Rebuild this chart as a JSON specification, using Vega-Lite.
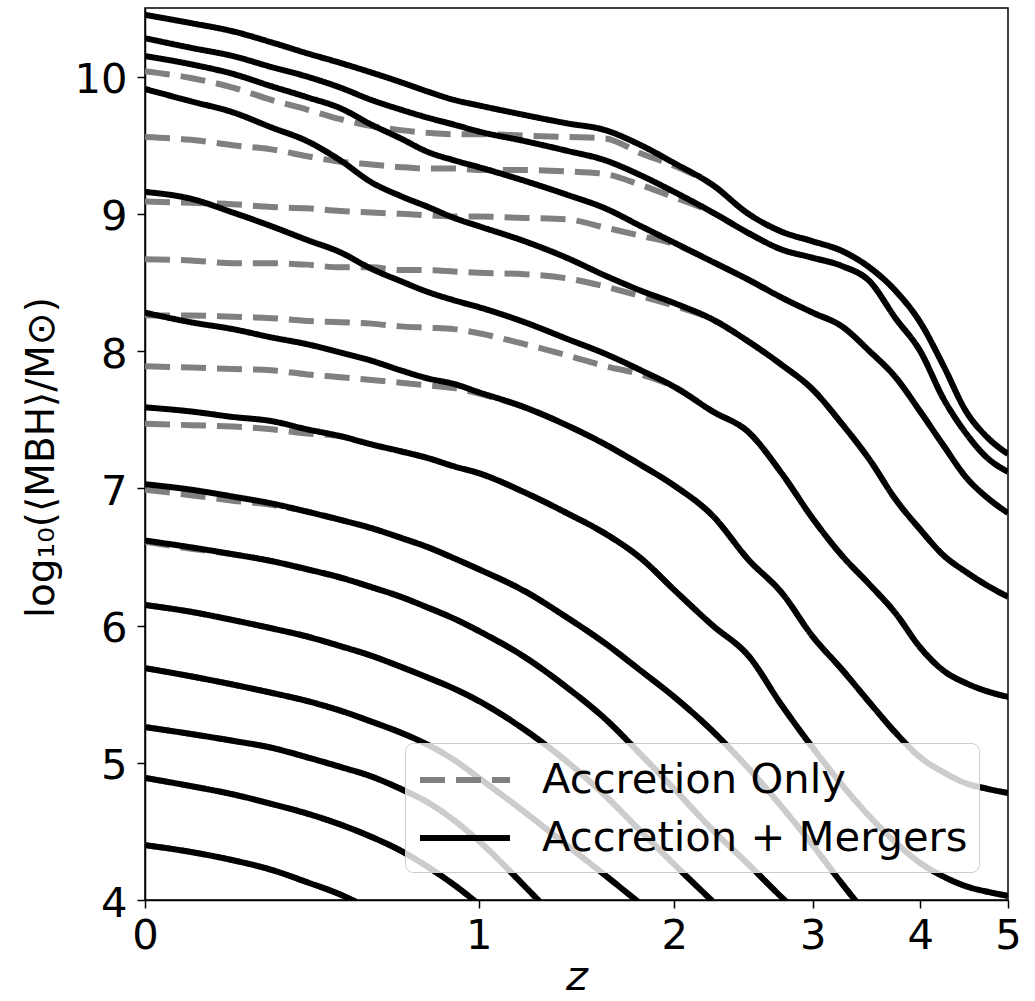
{
  "$schema": "https://vega.github.io/schema/vega-lite/v6.json",
  "width": 863,
  "height": 892,
  "autosize": {"type": "none"},
  "padding": {"left": 145, "top": 8, "right": 27, "bottom": 101},
  "background": "white",
  "config": {
    "font": "DejaVu Sans",
    "view": {"stroke": "#000000", "strokeWidth": 1.5},
    "axis": {
      "grid": false,
      "domainColor": "#000000", "domainWidth": 1.5,
      "tickColor": "#000000", "tickWidth": 1.5, "tickSize": 8,
      "labelFont": "DejaVu Sans", "labelFontSize": 41.67, "labelColor": "#000000", "labelPadding": 7,
      "titleFont": "DejaVu Sans", "titleFontSize": 41.67, "titleFontWeight": "normal", "titleColor": "#000000"
    },
    "legend": {
      "direction": "vertical",
      "symbolSize": 2025, "symbolStrokeWidth": 6, "symbolOffset": 23,
      "labelOffset": 51.5, "labelFont": "DejaVu Sans", "labelFontSize": 41.67, "labelColor": "#000000", "labelLimit": 1000,
      "rowPadding": 10, "padding": 11.5,
      "fillColor": "rgba(255,255,255,0.8)", "strokeColor": "#cccccc", "cornerRadius": 8
    }
  },
  "datasets": {
    "accretion_only": [
      {"track":1,"z":0,"logM":10.04},{"track":1,"z":0.1,"logM":9.99},{"track":1,"z":0.2,"logM":9.92},{"track":1,"z":0.3,"logM":9.83},{"track":1,"z":0.4,"logM":9.76},{"track":1,"z":0.5,"logM":9.69},{"track":1,"z":0.6,"logM":9.64},{"track":1,"z":0.7,"logM":9.61},{"track":1,"z":0.8,"logM":9.59},{"track":1,"z":0.9,"logM":9.58},{"track":1,"z":1,"logM":9.58},{"track":1,"z":1.2,"logM":9.57},{"track":1,"z":1.4,"logM":9.56},{"track":1,"z":1.6,"logM":9.55},{"track":1,"z":1.8,"logM":9.44},{"track":1,"z":2,"logM":9.35},{"track":1,"z":2.25,"logM":9.21},{"track":1,"z":2.5,"logM":9.0},{"track":1,"z":2.75,"logM":8.87},{"track":1,"z":3,"logM":8.8},{"track":1,"z":3.25,"logM":8.73},{"track":1,"z":3.5,"logM":8.61},{"track":1,"z":3.75,"logM":8.44},{"track":1,"z":4,"logM":8.21},{"track":1,"z":4.25,"logM":7.89},{"track":1,"z":4.5,"logM":7.56},{"track":1,"z":4.75,"logM":7.37},{"track":1,"z":5,"logM":7.25},
      {"track":2,"z":0,"logM":9.56},{"track":2,"z":0.1,"logM":9.54},{"track":2,"z":0.2,"logM":9.5},{"track":2,"z":0.3,"logM":9.47},{"track":2,"z":0.4,"logM":9.42},{"track":2,"z":0.5,"logM":9.38},{"track":2,"z":0.6,"logM":9.36},{"track":2,"z":0.7,"logM":9.34},{"track":2,"z":0.8,"logM":9.33},{"track":2,"z":0.9,"logM":9.33},{"track":2,"z":1,"logM":9.32},{"track":2,"z":1.2,"logM":9.32},{"track":2,"z":1.4,"logM":9.31},{"track":2,"z":1.6,"logM":9.29},{"track":2,"z":1.8,"logM":9.21},{"track":2,"z":2,"logM":9.12},{"track":2,"z":2.25,"logM":9.01},{"track":2,"z":2.5,"logM":8.86},{"track":2,"z":2.75,"logM":8.74},{"track":2,"z":3,"logM":8.68},{"track":2,"z":3.25,"logM":8.62},{"track":2,"z":3.5,"logM":8.51},{"track":2,"z":3.75,"logM":8.24},{"track":2,"z":4,"logM":8.0},{"track":2,"z":4.25,"logM":7.65},{"track":2,"z":4.5,"logM":7.4},{"track":2,"z":4.75,"logM":7.22},{"track":2,"z":5,"logM":7.12},
      {"track":3,"z":0,"logM":9.09},{"track":3,"z":0.1,"logM":9.08},{"track":3,"z":0.2,"logM":9.07},{"track":3,"z":0.3,"logM":9.05},{"track":3,"z":0.4,"logM":9.04},{"track":3,"z":0.5,"logM":9.02},{"track":3,"z":0.6,"logM":9.01},{"track":3,"z":0.7,"logM":9.0},{"track":3,"z":0.8,"logM":8.99},{"track":3,"z":0.9,"logM":8.98},{"track":3,"z":1,"logM":8.98},{"track":3,"z":1.2,"logM":8.97},{"track":3,"z":1.4,"logM":8.96},{"track":3,"z":1.6,"logM":8.9},{"track":3,"z":1.8,"logM":8.84},{"track":3,"z":2,"logM":8.78},{"track":3,"z":2.25,"logM":8.65},{"track":3,"z":2.5,"logM":8.52},{"track":3,"z":2.75,"logM":8.39},{"track":3,"z":3,"logM":8.28},{"track":3,"z":3.25,"logM":8.18},{"track":3,"z":3.5,"logM":8.0},{"track":3,"z":3.75,"logM":7.81},{"track":3,"z":4,"logM":7.56},{"track":3,"z":4.25,"logM":7.31},{"track":3,"z":4.5,"logM":7.08},{"track":3,"z":4.75,"logM":6.93},{"track":3,"z":5,"logM":6.82},
      {"track":4,"z":0,"logM":8.67},{"track":4,"z":0.1,"logM":8.66},{"track":4,"z":0.2,"logM":8.64},{"track":4,"z":0.3,"logM":8.64},{"track":4,"z":0.4,"logM":8.63},{"track":4,"z":0.5,"logM":8.61},{"track":4,"z":0.6,"logM":8.61},{"track":4,"z":0.7,"logM":8.59},{"track":4,"z":0.8,"logM":8.59},{"track":4,"z":0.9,"logM":8.58},{"track":4,"z":1,"logM":8.57},{"track":4,"z":1.2,"logM":8.56},{"track":4,"z":1.4,"logM":8.53},{"track":4,"z":1.6,"logM":8.47},{"track":4,"z":1.8,"logM":8.4},{"track":4,"z":2,"logM":8.33},{"track":4,"z":2.25,"logM":8.23},{"track":4,"z":2.5,"logM":8.07},{"track":4,"z":2.75,"logM":7.9},{"track":4,"z":3,"logM":7.72},{"track":4,"z":3.25,"logM":7.47},{"track":4,"z":3.5,"logM":7.21},{"track":4,"z":3.75,"logM":6.92},{"track":4,"z":4,"logM":6.7},{"track":4,"z":4.25,"logM":6.51},{"track":4,"z":4.5,"logM":6.39},{"track":4,"z":4.75,"logM":6.29},{"track":4,"z":5,"logM":6.21},
      {"track":5,"z":0,"logM":8.26},{"track":5,"z":0.1,"logM":8.26},{"track":5,"z":0.2,"logM":8.25},{"track":5,"z":0.3,"logM":8.24},{"track":5,"z":0.4,"logM":8.22},{"track":5,"z":0.5,"logM":8.21},{"track":5,"z":0.6,"logM":8.2},{"track":5,"z":0.7,"logM":8.18},{"track":5,"z":0.8,"logM":8.17},{"track":5,"z":0.9,"logM":8.16},{"track":5,"z":1,"logM":8.13},{"track":5,"z":1.2,"logM":8.05},{"track":5,"z":1.4,"logM":7.97},{"track":5,"z":1.6,"logM":7.89},{"track":5,"z":1.8,"logM":7.83},{"track":5,"z":2,"logM":7.74},{"track":5,"z":2.25,"logM":7.56},{"track":5,"z":2.5,"logM":7.41},{"track":5,"z":2.75,"logM":7.11},{"track":5,"z":3,"logM":6.78},{"track":5,"z":3.25,"logM":6.51},{"track":5,"z":3.5,"logM":6.3},{"track":5,"z":3.75,"logM":6.09},{"track":5,"z":4,"logM":5.84},{"track":5,"z":4.25,"logM":5.67},{"track":5,"z":4.5,"logM":5.58},{"track":5,"z":4.75,"logM":5.52},{"track":5,"z":5,"logM":5.48},
      {"track":6,"z":0,"logM":7.89},{"track":6,"z":0.1,"logM":7.88},{"track":6,"z":0.2,"logM":7.87},{"track":6,"z":0.3,"logM":7.86},{"track":6,"z":0.4,"logM":7.83},{"track":6,"z":0.5,"logM":7.81},{"track":6,"z":0.6,"logM":7.79},{"track":6,"z":0.7,"logM":7.77},{"track":6,"z":0.8,"logM":7.75},{"track":6,"z":0.9,"logM":7.73},{"track":6,"z":1,"logM":7.69},{"track":6,"z":1.2,"logM":7.59},{"track":6,"z":1.4,"logM":7.46},{"track":6,"z":1.6,"logM":7.32},{"track":6,"z":1.8,"logM":7.17},{"track":6,"z":2,"logM":7.02},{"track":6,"z":2.25,"logM":6.8},{"track":6,"z":2.5,"logM":6.48},{"track":6,"z":2.75,"logM":6.24},{"track":6,"z":3,"logM":5.92},{"track":6,"z":3.25,"logM":5.68},{"track":6,"z":3.5,"logM":5.44},{"track":6,"z":3.75,"logM":5.22},{"track":6,"z":4,"logM":5.04},{"track":6,"z":4.25,"logM":4.93},{"track":6,"z":4.5,"logM":4.85},{"track":6,"z":4.75,"logM":4.81},{"track":6,"z":5,"logM":4.78},
      {"track":7,"z":0,"logM":7.47},{"track":7,"z":0.1,"logM":7.46},{"track":7,"z":0.2,"logM":7.45},{"track":7,"z":0.3,"logM":7.43},{"track":7,"z":0.4,"logM":7.4},{"track":7,"z":0.5,"logM":7.38},{"track":7,"z":0.6,"logM":7.32},{"track":7,"z":0.7,"logM":7.27},{"track":7,"z":0.8,"logM":7.22},{"track":7,"z":0.9,"logM":7.16},{"track":7,"z":1,"logM":7.11},{"track":7,"z":1.2,"logM":6.97},{"track":7,"z":1.4,"logM":6.82},{"track":7,"z":1.6,"logM":6.67},{"track":7,"z":1.8,"logM":6.49},{"track":7,"z":2,"logM":6.26},{"track":7,"z":2.25,"logM":6.0},{"track":7,"z":2.5,"logM":5.78},{"track":7,"z":2.75,"logM":5.42},{"track":7,"z":3,"logM":5.11},{"track":7,"z":3.25,"logM":4.84},{"track":7,"z":3.5,"logM":4.61},{"track":7,"z":3.75,"logM":4.42},{"track":7,"z":4,"logM":4.27},{"track":7,"z":4.25,"logM":4.17},{"track":7,"z":4.5,"logM":4.1},{"track":7,"z":4.75,"logM":4.06},{"track":7,"z":5,"logM":4.03},
      {"track":8,"z":0,"logM":6.99},{"track":8,"z":0.1,"logM":6.95},{"track":8,"z":0.2,"logM":6.91},{"track":8,"z":0.3,"logM":6.88},{"track":8,"z":0.4,"logM":6.83},{"track":8,"z":0.5,"logM":6.77},{"track":8,"z":0.6,"logM":6.71},{"track":8,"z":0.7,"logM":6.64},{"track":8,"z":0.8,"logM":6.57},{"track":8,"z":0.9,"logM":6.49},{"track":8,"z":1,"logM":6.41},{"track":8,"z":1.2,"logM":6.25},{"track":8,"z":1.4,"logM":6.06},{"track":8,"z":1.6,"logM":5.87},{"track":8,"z":1.8,"logM":5.67},{"track":8,"z":2,"logM":5.48},{"track":8,"z":2.25,"logM":5.23},{"track":8,"z":2.5,"logM":4.96},{"track":8,"z":2.75,"logM":4.68},{"track":8,"z":3,"logM":4.4},{"track":8,"z":3.25,"logM":4.12},{"track":8,"z":3.5,"logM":3.87},
      {"track":9,"z":0,"logM":6.61},{"track":9,"z":0.1,"logM":6.56},{"track":9,"z":0.2,"logM":6.52},{"track":9,"z":0.3,"logM":6.47},{"track":9,"z":0.4,"logM":6.41},{"track":9,"z":0.5,"logM":6.35},{"track":9,"z":0.6,"logM":6.28},{"track":9,"z":0.7,"logM":6.21},{"track":9,"z":0.8,"logM":6.13},{"track":9,"z":0.9,"logM":6.05},{"track":9,"z":1,"logM":5.96},{"track":9,"z":1.2,"logM":5.77},{"track":9,"z":1.4,"logM":5.55},{"track":9,"z":1.6,"logM":5.32},{"track":9,"z":1.8,"logM":5.06},{"track":9,"z":2,"logM":4.81},{"track":9,"z":2.25,"logM":4.51},{"track":9,"z":2.5,"logM":4.26},{"track":9,"z":2.75,"logM":4.02},{"track":9,"z":3,"logM":3.81},
      {"track":10,"z":0,"logM":6.15},{"track":10,"z":0.1,"logM":6.1},{"track":10,"z":0.2,"logM":6.04},{"track":10,"z":0.3,"logM":5.98},{"track":10,"z":0.4,"logM":5.92},{"track":10,"z":0.5,"logM":5.85},{"track":10,"z":0.6,"logM":5.78},{"track":10,"z":0.7,"logM":5.7},{"track":10,"z":0.8,"logM":5.62},{"track":10,"z":0.9,"logM":5.54},{"track":10,"z":1,"logM":5.45},{"track":10,"z":1.2,"logM":5.24},{"track":10,"z":1.4,"logM":5.01},{"track":10,"z":1.6,"logM":4.76},{"track":10,"z":1.8,"logM":4.5},{"track":10,"z":2,"logM":4.26},{"track":10,"z":2.25,"logM":3.99},
      {"track":11,"z":0,"logM":5.69},{"track":11,"z":0.1,"logM":5.63},{"track":11,"z":0.2,"logM":5.57},{"track":11,"z":0.3,"logM":5.51},{"track":11,"z":0.4,"logM":5.45},{"track":11,"z":0.5,"logM":5.38},{"track":11,"z":0.6,"logM":5.3},{"track":11,"z":0.7,"logM":5.22},{"track":11,"z":0.8,"logM":5.13},{"track":11,"z":0.9,"logM":5.02},{"track":11,"z":1,"logM":4.89},{"track":11,"z":1.2,"logM":4.64},{"track":11,"z":1.4,"logM":4.4},{"track":11,"z":1.6,"logM":4.18},{"track":11,"z":1.8,"logM":3.97},
      {"track":12,"z":0,"logM":5.26},{"track":12,"z":0.1,"logM":5.21},{"track":12,"z":0.2,"logM":5.16},{"track":12,"z":0.3,"logM":5.11},{"track":12,"z":0.4,"logM":5.04},{"track":12,"z":0.5,"logM":4.97},{"track":12,"z":0.6,"logM":4.9},{"track":12,"z":0.7,"logM":4.81},{"track":12,"z":0.8,"logM":4.71},{"track":12,"z":0.9,"logM":4.58},{"track":12,"z":1,"logM":4.43},{"track":12,"z":1.2,"logM":4.1},{"track":12,"z":1.4,"logM":3.78},
      {"track":13,"z":0,"logM":4.89},{"track":13,"z":0.1,"logM":4.83},{"track":13,"z":0.2,"logM":4.77},{"track":13,"z":0.3,"logM":4.7},{"track":13,"z":0.4,"logM":4.63},{"track":13,"z":0.5,"logM":4.55},{"track":13,"z":0.6,"logM":4.46},{"track":13,"z":0.7,"logM":4.36},{"track":13,"z":0.8,"logM":4.24},{"track":13,"z":0.9,"logM":4.11},{"track":13,"z":1,"logM":3.97},
      {"track":14,"z":0,"logM":4.4},{"track":14,"z":0.1,"logM":4.35},{"track":14,"z":0.2,"logM":4.29},{"track":14,"z":0.3,"logM":4.22},{"track":14,"z":0.4,"logM":4.13},{"track":14,"z":0.5,"logM":4.04},{"track":14,"z":0.6,"logM":3.93}
    ],
    "accretion_mergers": [
      {"track":1,"z":0,"logM":10.45},{"track":1,"z":0.1,"logM":10.39},{"track":1,"z":0.2,"logM":10.33},{"track":1,"z":0.3,"logM":10.25},{"track":1,"z":0.4,"logM":10.17},{"track":1,"z":0.5,"logM":10.1},{"track":1,"z":0.6,"logM":10.03},{"track":1,"z":0.7,"logM":9.96},{"track":1,"z":0.8,"logM":9.89},{"track":1,"z":0.9,"logM":9.83},{"track":1,"z":1,"logM":9.79},{"track":1,"z":1.2,"logM":9.72},{"track":1,"z":1.4,"logM":9.66},{"track":1,"z":1.6,"logM":9.61},{"track":1,"z":1.8,"logM":9.5},{"track":1,"z":2,"logM":9.37},{"track":1,"z":2.25,"logM":9.21},{"track":1,"z":2.5,"logM":9.0},{"track":1,"z":2.75,"logM":8.87},{"track":1,"z":3,"logM":8.8},{"track":1,"z":3.25,"logM":8.73},{"track":1,"z":3.5,"logM":8.61},{"track":1,"z":3.75,"logM":8.44},{"track":1,"z":4,"logM":8.21},{"track":1,"z":4.25,"logM":7.89},{"track":1,"z":4.5,"logM":7.56},{"track":1,"z":4.75,"logM":7.37},{"track":1,"z":5,"logM":7.25},
      {"track":2,"z":0,"logM":10.28},{"track":2,"z":0.1,"logM":10.21},{"track":2,"z":0.2,"logM":10.15},{"track":2,"z":0.3,"logM":10.07},{"track":2,"z":0.4,"logM":10.0},{"track":2,"z":0.5,"logM":9.92},{"track":2,"z":0.6,"logM":9.83},{"track":2,"z":0.7,"logM":9.76},{"track":2,"z":0.8,"logM":9.7},{"track":2,"z":0.9,"logM":9.65},{"track":2,"z":1,"logM":9.6},{"track":2,"z":1.2,"logM":9.53},{"track":2,"z":1.4,"logM":9.46},{"track":2,"z":1.6,"logM":9.39},{"track":2,"z":1.8,"logM":9.28},{"track":2,"z":2,"logM":9.16},{"track":2,"z":2.25,"logM":9.01},{"track":2,"z":2.5,"logM":8.86},{"track":2,"z":2.75,"logM":8.74},{"track":2,"z":3,"logM":8.68},{"track":2,"z":3.25,"logM":8.62},{"track":2,"z":3.5,"logM":8.51},{"track":2,"z":3.75,"logM":8.24},{"track":2,"z":4,"logM":8.0},{"track":2,"z":4.25,"logM":7.65},{"track":2,"z":4.5,"logM":7.4},{"track":2,"z":4.75,"logM":7.22},{"track":2,"z":5,"logM":7.12},
      {"track":3,"z":0,"logM":10.15},{"track":3,"z":0.1,"logM":10.09},{"track":3,"z":0.2,"logM":10.02},{"track":3,"z":0.3,"logM":9.93},{"track":3,"z":0.4,"logM":9.85},{"track":3,"z":0.5,"logM":9.77},{"track":3,"z":0.6,"logM":9.65},{"track":3,"z":0.7,"logM":9.55},{"track":3,"z":0.8,"logM":9.45},{"track":3,"z":0.9,"logM":9.39},{"track":3,"z":1,"logM":9.34},{"track":3,"z":1.2,"logM":9.24},{"track":3,"z":1.4,"logM":9.14},{"track":3,"z":1.6,"logM":9.04},{"track":3,"z":1.8,"logM":8.91},{"track":3,"z":2,"logM":8.79},{"track":3,"z":2.25,"logM":8.65},{"track":3,"z":2.5,"logM":8.52},{"track":3,"z":2.75,"logM":8.39},{"track":3,"z":3,"logM":8.28},{"track":3,"z":3.25,"logM":8.18},{"track":3,"z":3.5,"logM":8.0},{"track":3,"z":3.75,"logM":7.81},{"track":3,"z":4,"logM":7.56},{"track":3,"z":4.25,"logM":7.31},{"track":3,"z":4.5,"logM":7.08},{"track":3,"z":4.75,"logM":6.93},{"track":3,"z":5,"logM":6.82},
      {"track":4,"z":0,"logM":9.91},{"track":4,"z":0.1,"logM":9.82},{"track":4,"z":0.2,"logM":9.74},{"track":4,"z":0.3,"logM":9.63},{"track":4,"z":0.4,"logM":9.53},{"track":4,"z":0.5,"logM":9.39},{"track":4,"z":0.6,"logM":9.23},{"track":4,"z":0.7,"logM":9.13},{"track":4,"z":0.8,"logM":9.05},{"track":4,"z":0.9,"logM":8.97},{"track":4,"z":1,"logM":8.91},{"track":4,"z":1.2,"logM":8.8},{"track":4,"z":1.4,"logM":8.68},{"track":4,"z":1.6,"logM":8.55},{"track":4,"z":1.8,"logM":8.44},{"track":4,"z":2,"logM":8.35},{"track":4,"z":2.25,"logM":8.23},{"track":4,"z":2.5,"logM":8.07},{"track":4,"z":2.75,"logM":7.9},{"track":4,"z":3,"logM":7.72},{"track":4,"z":3.25,"logM":7.47},{"track":4,"z":3.5,"logM":7.21},{"track":4,"z":3.75,"logM":6.92},{"track":4,"z":4,"logM":6.7},{"track":4,"z":4.25,"logM":6.51},{"track":4,"z":4.5,"logM":6.39},{"track":4,"z":4.75,"logM":6.29},{"track":4,"z":5,"logM":6.21},
      {"track":5,"z":0,"logM":9.16},{"track":5,"z":0.1,"logM":9.11},{"track":5,"z":0.2,"logM":9.01},{"track":5,"z":0.3,"logM":8.91},{"track":5,"z":0.4,"logM":8.81},{"track":5,"z":0.5,"logM":8.72},{"track":5,"z":0.6,"logM":8.6},{"track":5,"z":0.7,"logM":8.51},{"track":5,"z":0.8,"logM":8.43},{"track":5,"z":0.9,"logM":8.37},{"track":5,"z":1,"logM":8.32},{"track":5,"z":1.2,"logM":8.21},{"track":5,"z":1.4,"logM":8.09},{"track":5,"z":1.6,"logM":7.98},{"track":5,"z":1.8,"logM":7.86},{"track":5,"z":2,"logM":7.74},{"track":5,"z":2.25,"logM":7.56},{"track":5,"z":2.5,"logM":7.41},{"track":5,"z":2.75,"logM":7.11},{"track":5,"z":3,"logM":6.78},{"track":5,"z":3.25,"logM":6.51},{"track":5,"z":3.5,"logM":6.3},{"track":5,"z":3.75,"logM":6.09},{"track":5,"z":4,"logM":5.84},{"track":5,"z":4.25,"logM":5.67},{"track":5,"z":4.5,"logM":5.58},{"track":5,"z":4.75,"logM":5.52},{"track":5,"z":5,"logM":5.48},
      {"track":6,"z":0,"logM":8.28},{"track":6,"z":0.1,"logM":8.21},{"track":6,"z":0.2,"logM":8.16},{"track":6,"z":0.3,"logM":8.1},{"track":6,"z":0.4,"logM":8.05},{"track":6,"z":0.5,"logM":7.99},{"track":6,"z":0.6,"logM":7.93},{"track":6,"z":0.7,"logM":7.86},{"track":6,"z":0.8,"logM":7.8},{"track":6,"z":0.9,"logM":7.76},{"track":6,"z":1,"logM":7.7},{"track":6,"z":1.2,"logM":7.59},{"track":6,"z":1.4,"logM":7.46},{"track":6,"z":1.6,"logM":7.32},{"track":6,"z":1.8,"logM":7.17},{"track":6,"z":2,"logM":7.02},{"track":6,"z":2.25,"logM":6.8},{"track":6,"z":2.5,"logM":6.48},{"track":6,"z":2.75,"logM":6.24},{"track":6,"z":3,"logM":5.92},{"track":6,"z":3.25,"logM":5.68},{"track":6,"z":3.5,"logM":5.44},{"track":6,"z":3.75,"logM":5.22},{"track":6,"z":4,"logM":5.04},{"track":6,"z":4.25,"logM":4.93},{"track":6,"z":4.5,"logM":4.85},{"track":6,"z":4.75,"logM":4.81},{"track":6,"z":5,"logM":4.78},
      {"track":7,"z":0,"logM":7.59},{"track":7,"z":0.1,"logM":7.56},{"track":7,"z":0.2,"logM":7.52},{"track":7,"z":0.3,"logM":7.49},{"track":7,"z":0.4,"logM":7.43},{"track":7,"z":0.5,"logM":7.38},{"track":7,"z":0.6,"logM":7.32},{"track":7,"z":0.7,"logM":7.27},{"track":7,"z":0.8,"logM":7.22},{"track":7,"z":0.9,"logM":7.16},{"track":7,"z":1,"logM":7.11},{"track":7,"z":1.2,"logM":6.97},{"track":7,"z":1.4,"logM":6.82},{"track":7,"z":1.6,"logM":6.67},{"track":7,"z":1.8,"logM":6.49},{"track":7,"z":2,"logM":6.26},{"track":7,"z":2.25,"logM":6.0},{"track":7,"z":2.5,"logM":5.78},{"track":7,"z":2.75,"logM":5.42},{"track":7,"z":3,"logM":5.11},{"track":7,"z":3.25,"logM":4.84},{"track":7,"z":3.5,"logM":4.61},{"track":7,"z":3.75,"logM":4.42},{"track":7,"z":4,"logM":4.27},{"track":7,"z":4.25,"logM":4.17},{"track":7,"z":4.5,"logM":4.1},{"track":7,"z":4.75,"logM":4.06},{"track":7,"z":5,"logM":4.03},
      {"track":8,"z":0,"logM":7.03},{"track":8,"z":0.1,"logM":6.99},{"track":8,"z":0.2,"logM":6.94},{"track":8,"z":0.3,"logM":6.89},{"track":8,"z":0.4,"logM":6.83},{"track":8,"z":0.5,"logM":6.77},{"track":8,"z":0.6,"logM":6.71},{"track":8,"z":0.7,"logM":6.64},{"track":8,"z":0.8,"logM":6.57},{"track":8,"z":0.9,"logM":6.49},{"track":8,"z":1,"logM":6.41},{"track":8,"z":1.2,"logM":6.25},{"track":8,"z":1.4,"logM":6.06},{"track":8,"z":1.6,"logM":5.87},{"track":8,"z":1.8,"logM":5.67},{"track":8,"z":2,"logM":5.48},{"track":8,"z":2.25,"logM":5.23},{"track":8,"z":2.5,"logM":4.96},{"track":8,"z":2.75,"logM":4.68},{"track":8,"z":3,"logM":4.4},{"track":8,"z":3.25,"logM":4.12},{"track":8,"z":3.5,"logM":3.87},
      {"track":9,"z":0,"logM":6.62},{"track":9,"z":0.1,"logM":6.57},{"track":9,"z":0.2,"logM":6.52},{"track":9,"z":0.3,"logM":6.47},{"track":9,"z":0.4,"logM":6.41},{"track":9,"z":0.5,"logM":6.35},{"track":9,"z":0.6,"logM":6.28},{"track":9,"z":0.7,"logM":6.21},{"track":9,"z":0.8,"logM":6.13},{"track":9,"z":0.9,"logM":6.05},{"track":9,"z":1,"logM":5.96},{"track":9,"z":1.2,"logM":5.77},{"track":9,"z":1.4,"logM":5.55},{"track":9,"z":1.6,"logM":5.32},{"track":9,"z":1.8,"logM":5.06},{"track":9,"z":2,"logM":4.81},{"track":9,"z":2.25,"logM":4.51},{"track":9,"z":2.5,"logM":4.26},{"track":9,"z":2.75,"logM":4.02},{"track":9,"z":3,"logM":3.81},
      {"track":10,"z":0,"logM":6.15},{"track":10,"z":0.1,"logM":6.1},{"track":10,"z":0.2,"logM":6.04},{"track":10,"z":0.3,"logM":5.98},{"track":10,"z":0.4,"logM":5.92},{"track":10,"z":0.5,"logM":5.85},{"track":10,"z":0.6,"logM":5.78},{"track":10,"z":0.7,"logM":5.7},{"track":10,"z":0.8,"logM":5.62},{"track":10,"z":0.9,"logM":5.54},{"track":10,"z":1,"logM":5.45},{"track":10,"z":1.2,"logM":5.24},{"track":10,"z":1.4,"logM":5.01},{"track":10,"z":1.6,"logM":4.76},{"track":10,"z":1.8,"logM":4.5},{"track":10,"z":2,"logM":4.26},{"track":10,"z":2.25,"logM":3.99},
      {"track":11,"z":0,"logM":5.69},{"track":11,"z":0.1,"logM":5.63},{"track":11,"z":0.2,"logM":5.57},{"track":11,"z":0.3,"logM":5.51},{"track":11,"z":0.4,"logM":5.45},{"track":11,"z":0.5,"logM":5.38},{"track":11,"z":0.6,"logM":5.3},{"track":11,"z":0.7,"logM":5.22},{"track":11,"z":0.8,"logM":5.13},{"track":11,"z":0.9,"logM":5.02},{"track":11,"z":1,"logM":4.89},{"track":11,"z":1.2,"logM":4.64},{"track":11,"z":1.4,"logM":4.4},{"track":11,"z":1.6,"logM":4.18},{"track":11,"z":1.8,"logM":3.97},
      {"track":12,"z":0,"logM":5.26},{"track":12,"z":0.1,"logM":5.21},{"track":12,"z":0.2,"logM":5.16},{"track":12,"z":0.3,"logM":5.11},{"track":12,"z":0.4,"logM":5.04},{"track":12,"z":0.5,"logM":4.97},{"track":12,"z":0.6,"logM":4.9},{"track":12,"z":0.7,"logM":4.81},{"track":12,"z":0.8,"logM":4.71},{"track":12,"z":0.9,"logM":4.58},{"track":12,"z":1,"logM":4.43},{"track":12,"z":1.2,"logM":4.1},{"track":12,"z":1.4,"logM":3.78},
      {"track":13,"z":0,"logM":4.89},{"track":13,"z":0.1,"logM":4.83},{"track":13,"z":0.2,"logM":4.77},{"track":13,"z":0.3,"logM":4.7},{"track":13,"z":0.4,"logM":4.63},{"track":13,"z":0.5,"logM":4.55},{"track":13,"z":0.6,"logM":4.46},{"track":13,"z":0.7,"logM":4.36},{"track":13,"z":0.8,"logM":4.24},{"track":13,"z":0.9,"logM":4.11},{"track":13,"z":1,"logM":3.97},
      {"track":14,"z":0,"logM":4.4},{"track":14,"z":0.1,"logM":4.35},{"track":14,"z":0.2,"logM":4.29},{"track":14,"z":0.3,"logM":4.22},{"track":14,"z":0.4,"logM":4.13},{"track":14,"z":0.5,"logM":4.04},{"track":14,"z":0.6,"logM":3.93}
    ]
  },
  "encoding": {
    "x": {
      "field": "z", "type": "quantitative",
      "scale": {"type": "symlog", "constant": 1, "domain": [0, 5], "nice": false},
      "axis": {
        "values": [0, 1, 2, 3, 4, 5], "format": "d", "labelFlush": false, "labelOverlap": false,
        "title": "z", "titleFontStyle": "italic",
        "titleX": 431.5, "titleY": 89, "titleAlign": "center", "titleBaseline": "alphabetic"
      }
    },
    "y": {
      "field": "logM", "type": "quantitative",
      "scale": {"domain": [4, 10.5], "nice": false, "zero": false},
      "axis": {
        "values": [4, 5, 6, 7, 8, 9, 10], "labelOffset": 3, "labelPadding": 10,
        "title": "log₁₀(⟨MBH⟩/M⊙)", "titleFontSize": 39,
        "titleX": -92, "titleY": 449, "titleAngle": -90, "titleAlign": "center", "titleBaseline": "alphabetic"
      }
    },
    "detail": {"field": "track", "type": "nominal"}
  },
  "layer": [
    {
      "data": {"name": "accretion_only"},
      "mark": {"type": "line", "strokeWidth": 6, "interpolate": "monotone", "clip": true, "strokeCap": "butt"},
      "encoding": {
        "color": {
          "datum": "Accretion Only", "type": "nominal",
          "scale": {"domain": ["Accretion Only", "Accretion + Mergers"], "range": ["#808080", "#000000"]},
          "legend": {"title": null, "orient": "none", "legendX": 260, "legendY": 735, "symbolType": "M-2,0H2"}
        },
        "strokeDash": {
          "datum": "Accretion Only", "type": "nominal",
          "scale": {"domain": ["Accretion Only", "Accretion + Mergers"], "range": [[25, 11], [1, 0]]},
          "legend": {"title": null, "orient": "none", "legendX": 260, "legendY": 735, "symbolType": "M-2,0H2"}
        }
      }
    },
    {
      "data": {"name": "accretion_mergers"},
      "mark": {"type": "line", "strokeWidth": 6, "interpolate": "monotone", "clip": true, "strokeCap": "butt", "strokeJoin": "round"},
      "encoding": {
        "color": {
          "datum": "Accretion + Mergers", "type": "nominal",
          "scale": {"domain": ["Accretion Only", "Accretion + Mergers"], "range": ["#808080", "#000000"]},
          "legend": {"title": null, "orient": "none", "legendX": 260, "legendY": 735, "symbolType": "M-2,0H2"}
        },
        "strokeDash": {
          "datum": "Accretion + Mergers", "type": "nominal",
          "scale": {"domain": ["Accretion Only", "Accretion + Mergers"], "range": [[25, 11], [1, 0]]},
          "legend": {"title": null, "orient": "none", "legendX": 260, "legendY": 735, "symbolType": "M-2,0H2"}
        }
      }
    }
  ]
}
